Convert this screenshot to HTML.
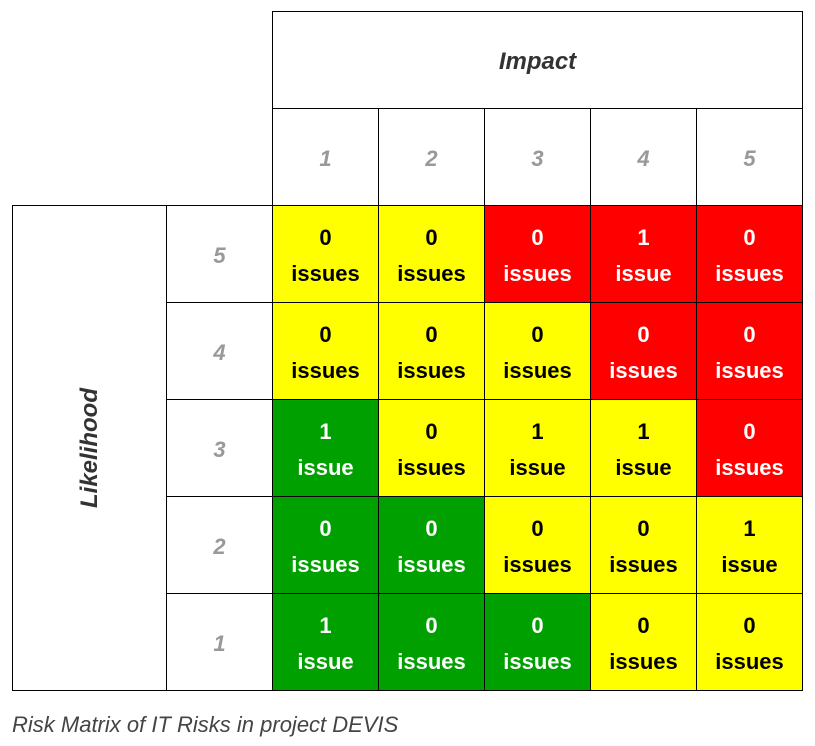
<!DOCTYPE html><html><head><style>
body{margin:0;width:815px;height:746px;background:#fff;position:relative;font-family:"Liberation Sans",sans-serif;overflow:hidden}
.c{position:absolute;box-sizing:border-box;border:1px solid #000;display:flex;align-items:center;justify-content:center;text-align:center}
.d{font-weight:bold;font-size:22px;line-height:36px;padding-top:3px}
.h{color:#999;font-style:italic;font-weight:bold;font-size:22px;padding-top:3px}
.y{background:#ffff00;color:#000}.r{background:#ff0000;color:#fff}.g{background:#00a000;color:#fff}
</style></head><body>
<div class="c" style="left:272px;top:11px;width:531px;height:98px;font-weight:bold;font-style:italic;font-size:24px;color:#333;padding-top:3px">Impact</div>
<div class="c" style="left:12px;top:205px;width:155px;height:486px"><div style="transform:rotate(-90deg);font-weight:bold;font-style:italic;font-size:24px;color:#333;white-space:nowrap">Likelihood</div></div>
<div id="g"></div>
<div style="position:absolute;left:12px;top:712px;font-style:italic;font-size:22px;color:#444">Risk Matrix of IT Risks in project DEVIS</div>
<script>
var X=[272,378,484,590,696,802],Y=[205,302,399,496,593,690];
var col=[["y","y","r","r","r"],["y","y","y","r","r"],["g","y","y","y","r"],["g","g","y","y","y"],["g","g","g","y","y"]];
var n=[[0,0,0,1,0],[0,0,0,0,0],[1,0,1,1,0],[0,0,0,0,1],[1,0,0,0,0]];
var h="";
for(var i=0;i<5;i++){h+='<div class="c h" style="left:'+X[i]+'px;top:108px;width:'+(X[i+1]-X[i]+1)+'px;height:98px">'+(i+1)+'</div>';}
for(var r=0;r<5;r++){h+='<div class="c h" style="left:166px;top:'+Y[r]+'px;width:107px;height:'+(Y[r+1]-Y[r]+1)+'px">'+(5-r)+'</div>';
for(var i=0;i<5;i++){var v=n[r][i];h+='<div class="c d '+col[r][i]+'" style="left:'+X[i]+'px;top:'+Y[r]+'px;width:'+(X[i+1]-X[i]+1)+'px;height:'+(Y[r+1]-Y[r]+1)+'px">'+v+'<br>'+(v==1?'issue':'issues')+'</div>';}}
document.getElementById("g").innerHTML=h;
</script>
</body></html>
